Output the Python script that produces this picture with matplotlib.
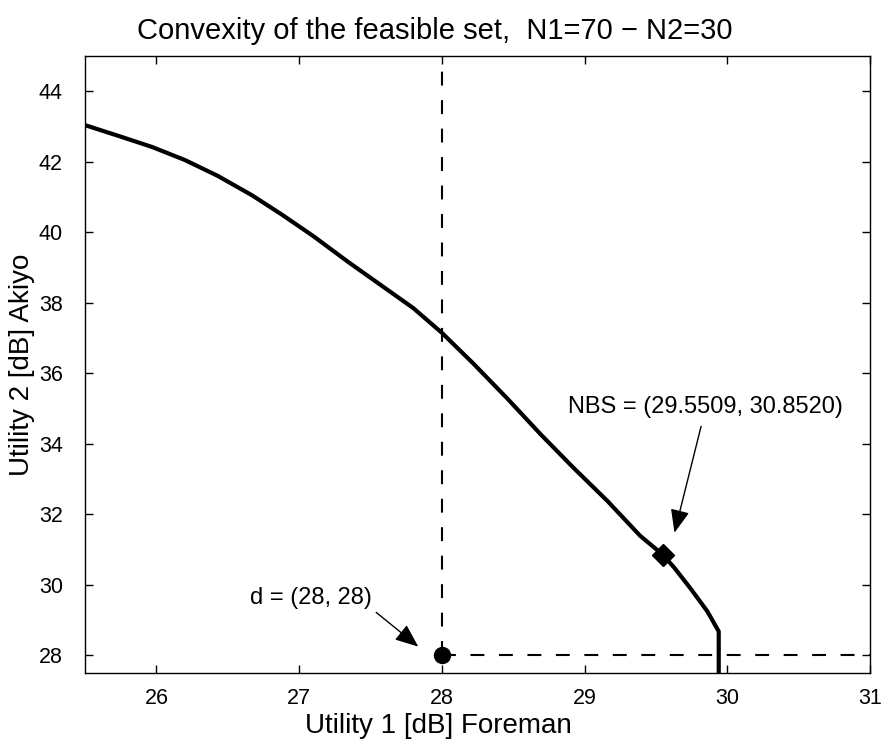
import matplotlib
matplotlib.use("Agg")
import matplotlib.pyplot as plt
import numpy as np

plt.rcParams['font.family'] = ['Liberation Sans', 'DejaVu Sans']
plt.rcParams['lines.scale_dashes'] = False

# feasible set boundary
u1 = [25.50, 25.73, 25.97, 26.20, 26.43, 26.67, 26.88, 27.10, 27.34, 27.57,
      27.80, 28.00, 28.22, 28.46, 28.69, 28.92, 29.16, 29.39, 29.55, 29.63,
      29.74, 29.86, 29.94, 29.94]
u2 = [43.04, 42.74, 42.42, 42.05, 41.60, 41.05, 40.50, 39.89, 39.17, 38.51,
      37.85, 37.15, 36.28, 35.28, 34.28, 33.33, 32.38, 31.39, 30.85, 30.48,
      29.91, 29.25, 28.68, 27.50]

d_point = (28, 28)
nbs_point = (29.5509, 30.8520)

x_ticks = [26, 27, 28, 29, 30, 31]
y_ticks = [28, 30, 32, 34, 36, 38, 40, 42, 44]

fig = plt.figure(figsize=(8.83, 7.44), dpi=100)
ax = fig.add_axes([0.0963, 0.0954, 0.889, 0.8293])

ax.plot(u1, u2, color='k', linewidth=3.0, solid_joinstyle='round')

# disagreement point lines
dash = (0, (10, 10.5))
ax.plot([d_point[0], d_point[0]], [d_point[1], 45], color='k', linewidth=1.5,
        linestyle=dash)
ax.plot([d_point[0], 31], [d_point[1], d_point[1]], color='k', linewidth=1.5,
        linestyle=dash)

ax.plot(*d_point, marker='o', markersize=11.5, color='k')
ax.plot(*nbs_point, marker='D', markersize=11, color='k')

head = '-|>,head_length=1.1,head_width=0.45'
ax.annotate('NBS = (%.4f, %.4f)' % nbs_point, xy=(29.63, 31.48),
            xytext=(28.887, 35.04), fontsize=17, va='center', ha='left',
            arrowprops=dict(arrowstyle=head, color='k', lw=1.0,
                            shrinkA=4, shrinkB=0, mutation_scale=13,
                            relpos=(0.49, 0.0)))
ax.annotate('d = (%d, %d)' % d_point, xy=(27.835, 28.25),
            xytext=(27.513, 29.62), fontsize=17, va='center', ha='right',
            arrowprops=dict(arrowstyle=head, color='k', lw=1.0,
                            shrinkA=1, shrinkB=0, mutation_scale=13,
                            relpos=(1.0, 0.0)))

ax.set_xlim(25.5, 31)
ax.set_ylim(27.5, 45)
ax.set_xticks(x_ticks)
ax.set_yticks(y_ticks)
ax.tick_params(direction='in', length=6, width=1, labelsize=15.5,
               top=True, right=True)
ax.tick_params(axis='x', pad=11)
ax.tick_params(axis='y', pad=16)
for s in ax.spines.values():
    s.set_linewidth(1.0)

ax.set_xlabel('Utility 1 [dB] Foreman', fontsize=20)
ax.xaxis.set_label_coords(0.45, -0.064)
ax.set_ylabel('Utility 2 [dB] Akiyo', fontsize=20)
ax.yaxis.set_label_coords(-0.064, 0.5)
ax.set_title('Convexity of the feasible set,  N1=70 \u2212 N2=30', fontsize=21,
             x=0.446, pad=12)

fig.savefig('out.png', dpi=100)
